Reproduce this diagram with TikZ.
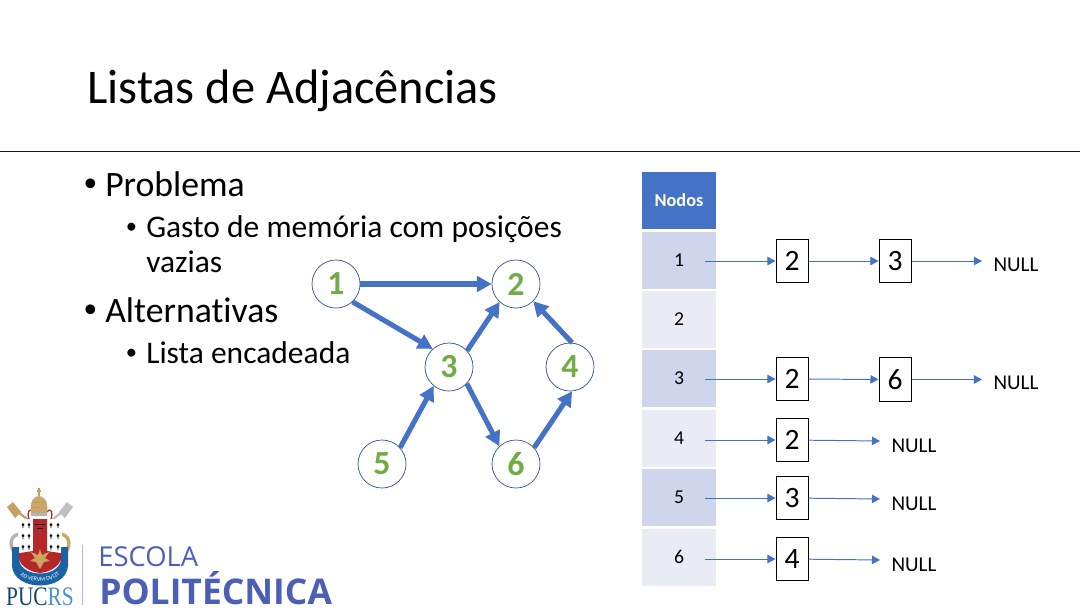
\documentclass[tikz,border=0pt]{standalone}
\usepackage{fontspec}
\setmainfont{Carlito}[Ligatures=NoCommon]
\newfontfamily\logofont{Open Sans}
\newfontfamily\pucfont{Liberation Serif}
\usepackage{xcolor}
\usetikzlibrary{arrows.meta,positioning,decorations.text}
\definecolor{slideblue}{HTML}{4472C4}
\definecolor{ringblue}{HTML}{2F528F}
\definecolor{rowdark}{HTML}{CFD5EA}
\definecolor{rowlight}{HTML}{E9EBF5}
\definecolor{numgreen}{HTML}{70AD47}
\definecolor{logoblue}{HTML}{4A5FB5}
\definecolor{crestred}{HTML}{B5282A}
\definecolor{crestgold}{HTML}{C9A86C}
\definecolor{crestblue}{HTML}{1B62A5}
\newcommand{\ermspot}[2]{\fill[black] (#1,#2) -- ++(-1.6,-1) -- ++(1,-1) -- ++(0.6,-1.6) -- ++(0.6,1.6) -- ++(1,1) -- cycle (#1-0.4,#2) rectangle ++(0.8,2);}

\begin{document}
\begin{tikzpicture}[
		x=0.025cm, y=-0.025cm,
		titletext/.style={anchor=base west, inner sep=0pt, font=\fontsize{34.4}{35}\selectfont},
		bigtext/.style={anchor=base west, inner sep=0pt, font=\fontsize{25.4}{26}\selectfont},
		smalltext/.style={anchor=base west, inner sep=0pt, font=\fontsize{22.4}{23}\selectfont},
		bigdot/.style={anchor=base west, inner sep=0pt, font=\fontsize{19.5}{20}\selectfont},
		smalldot/.style={anchor=base west, inner sep=0pt, font=\fontsize{16}{16}\selectfont},
		vertex/.style={circle, draw=ringblue, fill=white, line width=0.5pt, minimum size=1.2cm, inner sep=0pt, text=numgreen, font=\fontsize{24}{24}\selectfont\bfseries},
		headcell/.style={fill=slideblue, minimum width=1.85cm, minimum height=1.425cm, inner sep=0pt, text=white, font=\fontsize{13}{13}\selectfont\bfseries},
		darkcell/.style={fill=rowdark, minimum width=1.85cm, minimum height=1.425cm, inner sep=0pt, font=\fontsize{14}{14}\selectfont},
		lightcell/.style={fill=rowlight, minimum width=1.85cm, minimum height=1.425cm, inner sep=0pt, font=\fontsize{14}{14}\selectfont},
		listbox/.style={draw, fill=white, line width=0.7pt, minimum width=0.8cm, minimum height=1.08cm, inner sep=0pt, font=\fontsize{21}{21}\selectfont},
		nulltext/.style={inner sep=0pt, font=\fontsize{15}{15}\selectfont},
		graphedge/.style={-{Triangle[length=10.5pt, width=11pt]}, draw=slideblue, line width=3.6pt},
		listedge/.style={-{Triangle[length=5.7pt, width=6pt]}, draw=slideblue, line width=0.7pt}
		]

		\useasboundingbox (0,0) rectangle (1080,608);

		% title
		\node[titletext] (title) at (87,103) {Listas de Adjacências};
		\coordinate (ruleL) at (0,151);
		\coordinate (ruleR) at (1080,151);
		\draw[draw=black!80!brown, line width=0.5pt] (ruleL) -- (ruleR);

		% bullets
		\node[bigdot] (dot1) at (83.3,191) {•};
		\node[bigtext] (prob) at (105,196) {Problema};
		\node[smalldot] (dot2) at (125.7,233.5) {•};
		\node[smalltext] (gasto) at (146,237.5) {Gasto de memória com posições};
		\node[smalltext] (vaz) at (146,272.5) {vazias};
		\node[bigdot] (dot3) at (83.3,317) {•};
		\node[bigtext] (alt) at (105,322) {Alternativas};
		\node[smalldot] (dot4) at (125.7,359.5) {•};
		\node[smalltext] (lista) at (146,363.5) {Lista encadeada};

		% grafo
		\node[vertex] (v1) at (336,284) {1};
		\node[vertex] (v2) at (516,284) {2};
		\node[vertex] (v3) at (449,367) {3};
		\node[vertex] (v4) at (570,367) {4};
		\node[vertex] (v5) at (382,464) {5};
		\node[vertex] (v6) at (516,464) {6};

		\draw[graphedge] (v1) -- (v2);
		\draw[graphedge] (v1.-47) -- (v3.132);
		\draw[graphedge] (v3.42) -- (v2.228);
		\draw[graphedge] (v4.85) -- (v2.-45);
		\draw[graphedge] (v5.42) -- (v3.231);
		\draw[graphedge] (v3.-43) -- (v6.133);
		\draw[graphedge] (v6.42) -- (v4.-85);

		% tabela
		\node[headcell] (head) at (679,200) {Nodos};
		\node[darkcell] (row1) at (679,260.5) {1};
		\node[lightcell] (row2) at (679,319.5) {2};
		\node[darkcell] (row3) at (679,378.5) {3};
		\node[lightcell] (row4) at (679,438) {4};
		\node[darkcell] (row5) at (679,497.5) {5};
		\node[lightcell] (row6) at (679,557) {6};

		% listas
		\coordinate (s1) at (705,261);
		\node[listbox] (a1) at (792,261) {2};
		\node[listbox] (b1) at (895,261) {3};
		\coordinate (e1) at (982,261);
		\node[nulltext] (n1) at (1016,265) {NULL};
		\draw[listedge] (s1) -- (a1);
		\draw[listedge] (a1) -- (b1);
		\draw[listedge] (b1) -- (e1);

		\coordinate (s3) at (705,379);
		\node[listbox] (a3) at (792,379) {2};
		\node[listbox] (b3) at (895,379.5) {6};
		\coordinate (e3) at (982,379.5);
		\node[nulltext] (n3) at (1016,383) {NULL};
		\draw[listedge] (s3) -- (a3);
		\draw[listedge] (a3) -- (b3);
		\draw[listedge] (b3) -- (e3);

		\coordinate (s4) at (705,440);
		\node[listbox] (a4) at (792,440) {2};
		\coordinate (e4) at (880,441);
		\node[nulltext] (n4) at (914,446) {NULL};
		\draw[listedge] (s4) -- (a4);
		\draw[listedge] (a4) -- (e4);

		\coordinate (s5) at (705,498);
		\node[listbox] (a5) at (792,498) {3};
		\coordinate (e5) at (880,499);
		\node[nulltext] (n5) at (914,504) {NULL};
		\draw[listedge] (s5) -- (a5);
		\draw[listedge] (a5) -- (e5);

		\coordinate (s6) at (705,559);
		\node[listbox] (a6) at (792,559) {4};
		\coordinate (e6) at (880,560);
		\node[nulltext] (n6) at (914,565) {NULL};
		\draw[listedge] (s6) -- (a6);
		\draw[listedge] (a6) -- (e6);

		% logo
		\draw[crestgold!80!brown, line width=1.6pt] (15,510) -- (34,524);
		\draw[black!25, line width=1.6pt] (65,510) -- (46,524);
		\fill[crestgold!80!brown] (7,507) -- (13,502) -- (21,512) -- (15,518) -- cycle;
		\fill[black!25] (73,507) -- (67,502) -- (59,512) -- (65,518) -- cycle;
		\draw[black!30, line width=2.4pt] (21,534) .. controls (10,534) and (9,545) .. (14,552);
		\draw[crestgold, line width=2.4pt] (59,534) .. controls (70,534) and (71,545) .. (66,552);
		\draw[crestred, line width=0.9pt] (29,519) .. controls (26,510) and (31,508) .. (33,512);
		\draw[crestred, line width=0.9pt] (51,519) .. controls (54,510) and (49,508) .. (47,512);
		\fill[crestgold] (31,513) .. controls (29,500) and (35,496) .. (39,496) .. controls (43,496) and (49,500) .. (47,513) -- cycle;
		\draw[crestgold!70!brown, line width=0.6pt] (32,502) -- (46,502) (31,507) -- (47,507);
		\draw[crestgold!70!brown, line width=0.9pt] (39,496) -- (39,488) (37,491) -- (41,491);
		\fill[black!30] (31,513) rectangle (47,516);

		\fill[white] (18,519) rectangle (62,555);
		\fill[crestred] (33,519) rectangle (47,553) (18,553) -- (62,553) -- (62,556) .. controls (60,568) and (48,572) .. (40,573) .. controls (32,572) and (20,568) .. (18,556) -- cycle;
		\fill[crestred] (20,553) -- (33,551) -- (47,551) -- (60,553) -- cycle;
		\ermspot{23}{526} \ermspot{29}{526} \ermspot{51}{526} \ermspot{58}{526}
		\ermspot{23}{537} \ermspot{29}{537} \ermspot{51}{537} \ermspot{58}{537}
		\ermspot{23}{548} \ermspot{29}{548} \ermspot{51}{548} \ermspot{58}{548}
		\fill[crestgold!90!orange] (40,549) -- (42,555) -- (49,552) -- (45,558) -- (50,561) -- (44,562) -- (40,569) -- (36,562) -- (30,561) -- (35,558) -- (31,552) -- (38,555) -- cycle;
		\draw[black, line width=0.5pt] (35,524) -- (45,524) (37,528) -- (43,528);

		\fill[crestblue] (12,547) -- (12,566) .. controls (14,592) and (66,592) .. (68,566) -- (68,547) -- (61,547) -- (61,560) .. controls (58,578) and (22,578) .. (19,560) -- (19,547) -- cycle;
		\path[postaction={decorate, decoration={text along path, text align=center, text color=white, text={|\fontsize{4.2}{5}\selectfont|AD VERVM DVCIT}}}] (13,564) .. controls (17,587) and (63,587) .. (67,564);

		\node[inner sep=0pt, xscale=0.8, font=\pucfont\fontsize{19}{19}\selectfont] (pucrs) at (40,597) {\textcolor{crestblue!70!black}{PUC}\textcolor{cyan!60!blue!75}{RS}};
		\coordinate (barT) at (82,545);
		\coordinate (barB) at (82,605);
		\draw[logoblue!45, line width=0.6pt] (barT) -- (barB);
		\node[anchor=base west, inner sep=0pt, text=logoblue, font=\logofont\fontsize{19.5}{20}\selectfont] (escola) at (98,566) {ESCOLA};
		\node[anchor=base west, inner sep=0pt, text=logoblue, font=\logofont\fontsize{25.2}{26}\selectfont\bfseries] (poli) at (99,604.5) {POLITÉCNICA};

	\end{tikzpicture}
\end{document}
